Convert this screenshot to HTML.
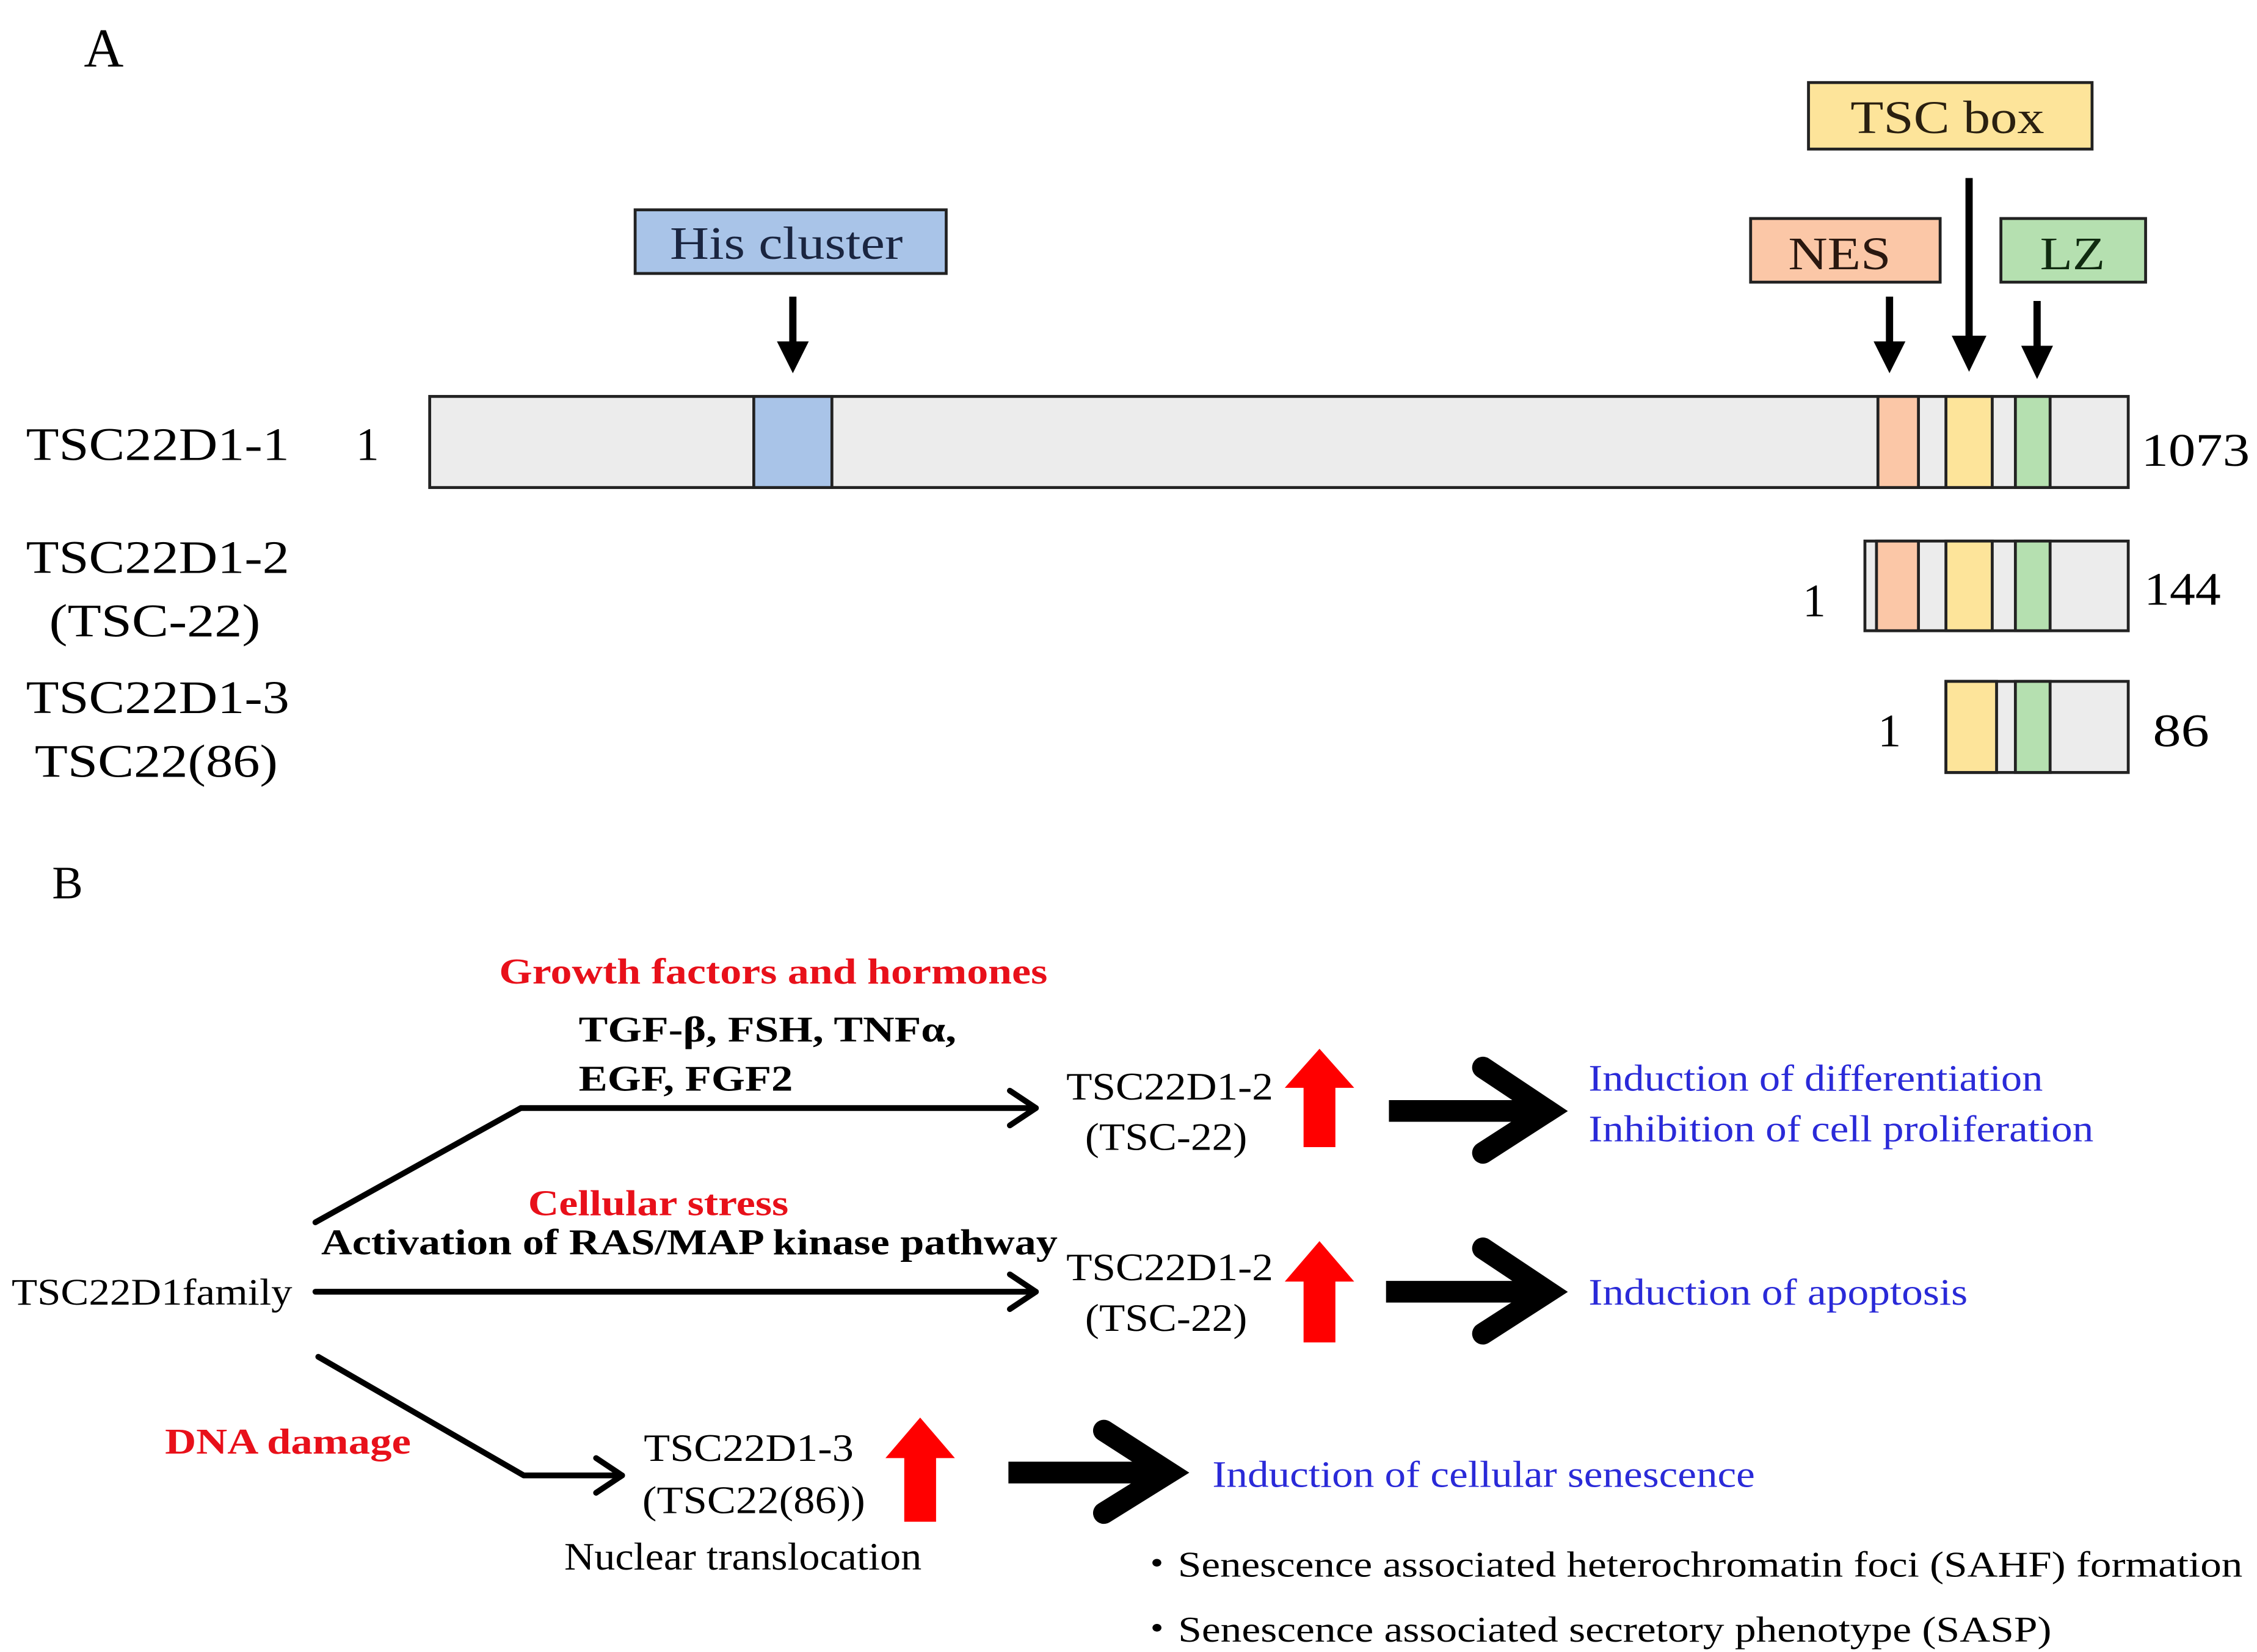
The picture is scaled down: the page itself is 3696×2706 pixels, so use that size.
<!DOCTYPE html>
<html><head><meta charset="utf-8"><style>html,body{margin:0;padding:0;background:#fff}svg{display:block}</style></head>
<body>
<svg width="3696" height="2706" viewBox="0 0 1560 1142" xmlns="http://www.w3.org/2000/svg" font-family="'Liberation Serif', serif">
<rect width="1560" height="1142" fill="#fff"/>
<text x="58" y="46" font-size="38">A</text>
<rect x="439" y="145" width="215" height="44" fill="#a9c4e8" stroke="#222" stroke-width="2"/>
<text x="463" y="179" font-size="32" textLength="161" lengthAdjust="spacingAndGlyphs" fill="#1a2540">His cluster</text>
<rect x="1250" y="57" width="196" height="46" fill="#fde49a" stroke="#222" stroke-width="2"/>
<text x="1279" y="92" font-size="32" textLength="134" lengthAdjust="spacingAndGlyphs" fill="#2a2010">TSC box</text>
<rect x="1210" y="151" width="131" height="44" fill="#fbc7a7" stroke="#222" stroke-width="2"/>
<text x="1236" y="186" font-size="32" textLength="71" lengthAdjust="spacingAndGlyphs" fill="#2a1810">NES</text>
<rect x="1383" y="151" width="100" height="44" fill="#b5e0b0" stroke="#222" stroke-width="2"/>
<text x="1410" y="186" font-size="32" textLength="45" lengthAdjust="spacingAndGlyphs" fill="#102a10">LZ</text>
<g fill="#000" stroke="#000">
<line x1="548" y1="205" x2="548" y2="240" stroke-width="5"/><polygon points="537,236 559,236 548,258" stroke="none"/>
<line x1="1306" y1="205" x2="1306" y2="240" stroke-width="5"/><polygon points="1295,236 1317,236 1306,258" stroke="none"/>
<line x1="1361" y1="123" x2="1361" y2="240" stroke-width="5"/><polygon points="1349,232 1373,232 1361,257" stroke="none"/>
<line x1="1408" y1="208" x2="1408" y2="244" stroke-width="5"/><polygon points="1397,239 1419,239 1408,262" stroke="none"/>
</g>
<rect x="297" y="274" width="1174" height="63" fill="#ececec" stroke="#222" stroke-width="2"/>
<rect x="521" y="274" width="54" height="63" fill="#a9c4e8" stroke="#222" stroke-width="2"/>
<rect x="1298" y="274" width="28" height="63" fill="#fbc7a7" stroke="#222" stroke-width="2"/>
<rect x="1345" y="274" width="32" height="63" fill="#fde49a" stroke="#222" stroke-width="2"/>
<rect x="1393" y="274" width="24" height="63" fill="#b5e0b0" stroke="#222" stroke-width="2"/>
<g font-size="32" lengthAdjust="spacingAndGlyphs">
<text x="18" y="318" textLength="182" lengthAdjust="spacingAndGlyphs">TSC22D1-1</text>
<text x="246" y="318">1</text>
<text x="1480" y="322" textLength="75" lengthAdjust="spacingAndGlyphs">1073</text>
<text x="18" y="396" textLength="182" lengthAdjust="spacingAndGlyphs">TSC22D1-2</text>
<text x="34" y="440" textLength="146" lengthAdjust="spacingAndGlyphs">(TSC-22)</text>
<text x="1246" y="426">1</text>
<text x="1482" y="418" textLength="53" lengthAdjust="spacingAndGlyphs">144</text>
<text x="18" y="493" textLength="182" lengthAdjust="spacingAndGlyphs">TSC22D1-3</text>
<text x="24" y="537" textLength="168" lengthAdjust="spacingAndGlyphs">TSC22(86)</text>
<text x="1298" y="516">1</text>
<text x="1488" y="516" textLength="39" lengthAdjust="spacingAndGlyphs">86</text>
</g>
<rect x="1289" y="374" width="182" height="62" fill="#ececec" stroke="#222" stroke-width="2"/>
<rect x="1297" y="374" width="29" height="62" fill="#fbc7a7" stroke="#222" stroke-width="2"/>
<rect x="1345" y="374" width="32" height="62" fill="#fde49a" stroke="#222" stroke-width="2"/>
<rect x="1393" y="374" width="24" height="62" fill="#b5e0b0" stroke="#222" stroke-width="2"/>
<rect x="1345" y="471" width="126" height="63" fill="#ececec" stroke="#222" stroke-width="2"/>
<rect x="1345" y="471" width="35" height="63" fill="#fde49a" stroke="#222" stroke-width="2"/>
<rect x="1393" y="471" width="24" height="63" fill="#b5e0b0" stroke="#222" stroke-width="2"/>

<text x="36" y="621" font-size="32">B</text>
<g font-size="25" font-weight="bold">
<text x="345" y="680" fill="#e8101a" textLength="379" lengthAdjust="spacingAndGlyphs">Growth factors and hormones</text>
<text x="400" y="720" textLength="261" lengthAdjust="spacingAndGlyphs">TGF-β, FSH, TNFα,</text>
<text x="400" y="754" textLength="148" lengthAdjust="spacingAndGlyphs">EGF, FGF2</text>
<text x="365" y="840" fill="#e8101a" textLength="180" lengthAdjust="spacingAndGlyphs">Cellular stress</text>
<text x="222" y="867" textLength="509" lengthAdjust="spacingAndGlyphs">Activation of RAS/MAP kinase pathway</text>
<text x="114" y="1005" fill="#e8101a" textLength="170" lengthAdjust="spacingAndGlyphs">DNA damage</text>
</g>
<text x="8" y="902" font-size="26" textLength="194" lengthAdjust="spacingAndGlyphs">TSC22D1family</text>

<g fill="none" stroke="#000" stroke-width="4" stroke-linecap="round" stroke-linejoin="round">
<polyline points="218,845 360,766 716,766"/>
<polyline points="698,754 716,766 698,778"/>
<line x1="218" y1="893" x2="716" y2="893"/>
<polyline points="698,881 716,893 698,905"/>
<polyline points="220,938 362,1020 430,1020"/>
<polyline points="412,1008 430,1020 412,1032"/>
</g>

<g font-size="27">
<text x="737" y="760" textLength="143" lengthAdjust="spacingAndGlyphs">TSC22D1-2</text>
<text x="750" y="795" textLength="112" lengthAdjust="spacingAndGlyphs">(TSC-22)</text>
<text x="737" y="885" textLength="143" lengthAdjust="spacingAndGlyphs">TSC22D1-2</text>
<text x="750" y="920" textLength="112" lengthAdjust="spacingAndGlyphs">(TSC-22)</text>
<text x="445" y="1010" textLength="145" lengthAdjust="spacingAndGlyphs">TSC22D1-3</text>
<text x="444" y="1046" textLength="154" lengthAdjust="spacingAndGlyphs">(TSC22(86))</text>
<text x="390" y="1085" textLength="247" lengthAdjust="spacingAndGlyphs">Nuclear translocation</text>
</g>

<g fill="#ff0000">
<polygon points="901,793 923,793 923,752 936,752 912,725 888,752 901,752"/>
<polygon points="901,928 923,928 923,886 936,886 912,858 888,886 901,886"/>
<polygon points="625,1052 647,1052 647,1008 660,1008 636,980 612,1008 625,1008"/>
</g>
<g fill="none" stroke="#000" stroke-width="15" stroke-linejoin="miter">
<line x1="960" y1="768" x2="1068" y2="768"/>
<polyline points="1025,738 1070,768 1025,797" stroke-linecap="round"/>
<line x1="958" y1="893" x2="1068" y2="893"/>
<polyline points="1025,863 1070,893 1025,922" stroke-linecap="round"/>
<line x1="697" y1="1018" x2="806" y2="1018"/>
<polyline points="763,989 808,1018 763,1046" stroke-linecap="round"/>
</g>

<g font-size="26" fill="#2a2ad8">
<text x="1098" y="754" textLength="314" lengthAdjust="spacingAndGlyphs">Induction  of differentiation</text>
<text x="1098" y="789" textLength="349" lengthAdjust="spacingAndGlyphs">Inhibition  of cell proliferation</text>
<text x="1098" y="902" textLength="262" lengthAdjust="spacingAndGlyphs">Induction  of apoptosis</text>
<text x="838" y="1028" textLength="375" lengthAdjust="spacingAndGlyphs">Induction  of cellular  senescence</text>
</g>
<g font-size="25">
<text x="785" y="1090" textLength="765" lengthAdjust="spacingAndGlyphs">・Senescence  associated  heterochromatin  foci  (SAHF) formation</text>
<text x="785" y="1135" textLength="633" lengthAdjust="spacingAndGlyphs">・Senescence  associated  secretory  phenotype  (SASP)</text>
</g>
</svg>
</body></html>
